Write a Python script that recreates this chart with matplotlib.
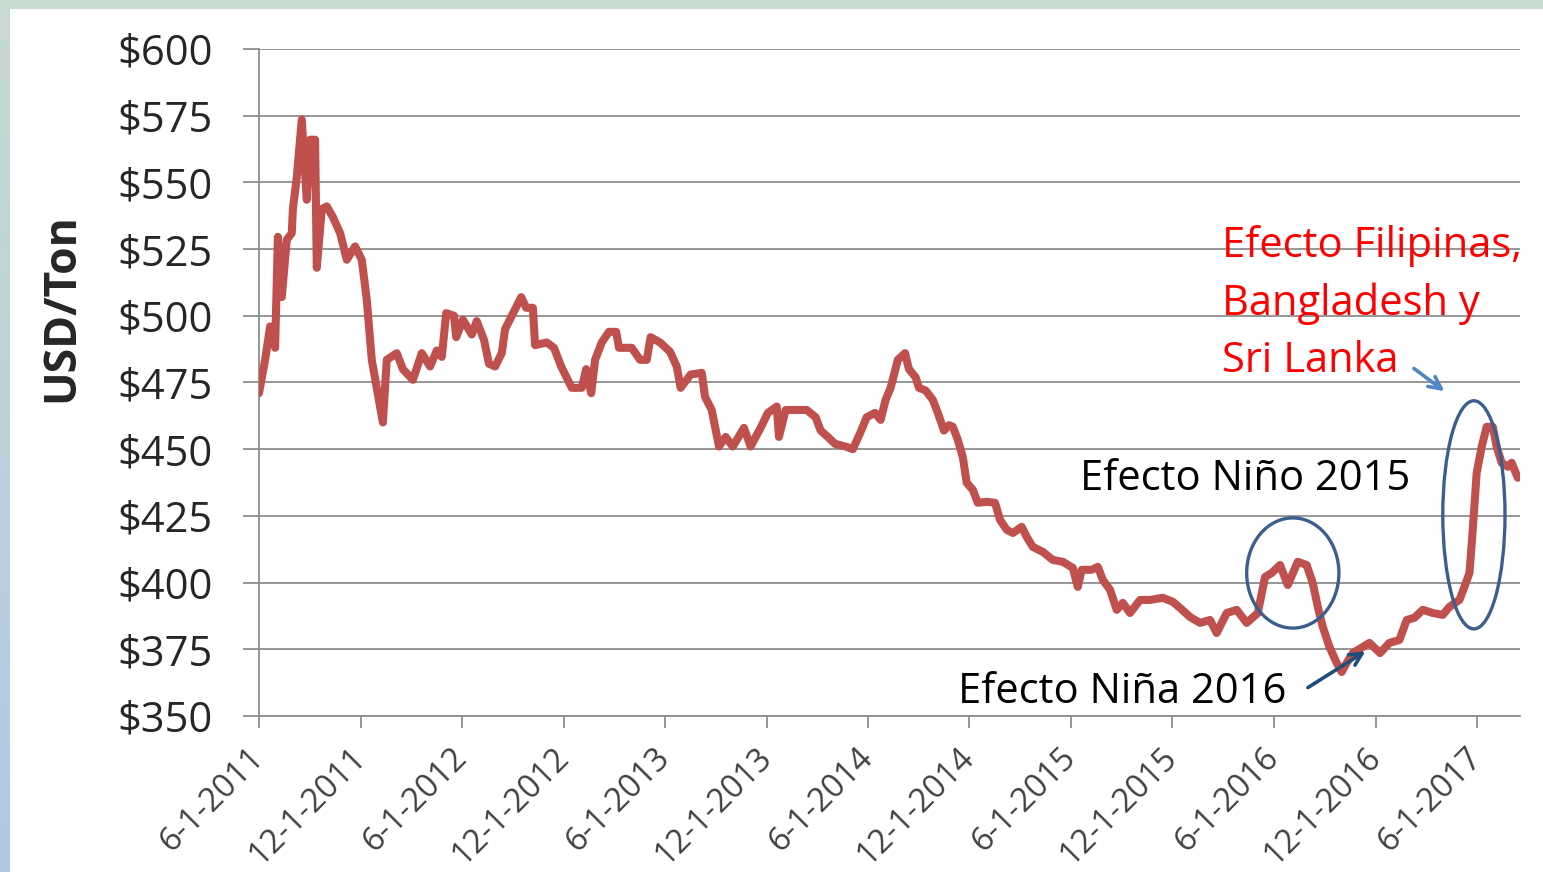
import numpy as np
import matplotlib
matplotlib.use("Agg")
import matplotlib.pyplot as plt
import matplotlib.dates as mdates
from matplotlib.patches import Ellipse, Rectangle

plt.rcParams['font.family'] = ['Open Sans', 'DejaVu Sans']

# rice price, USD/Ton (days counted from 6-1-2011)
start = np.datetime64('2011-06-01')
days = [0, 11, 20, 29, 34, 41, 50, 59, 61, 68, 77, 86, 92, 101, 104, 113, 122, 133,
        146, 158, 173, 185, 194, 203, 212, 223, 230, 248, 259, 277, 293, 308, 320,
        329, 337, 351, 355, 367, 383, 392, 405, 414, 425, 437, 443, 455, 472, 481,
        493, 497, 518, 531, 544, 563, 581, 589, 598, 605, 617, 630, 643, 648, 671,
        686, 698, 705, 722, 740, 752, 759, 777, 797, 803, 815, 828, 840, 853, 873,
        885, 903, 916, 932, 936, 948, 961, 986, 1002, 1011, 1024, 1037, 1056, 1069,
        1082, 1094, 1109, 1119, 1128, 1137, 1150, 1163, 1170, 1182, 1188, 1200, 1213,
        1222, 1233, 1242, 1249, 1258, 1267, 1274, 1285, 1294, 1310, 1325, 1334, 1346,
        1357, 1373, 1382, 1393, 1411, 1429, 1447, 1465, 1474, 1481, 1499, 1510, 1519,
        1532, 1544, 1555, 1568, 1586, 1604, 1627, 1645, 1658, 1676, 1694, 1712, 1724,
        1742, 1760, 1778, 1798, 1811, 1823, 1838, 1852, 1870, 1886, 1897, 1906, 1915,
        1927, 1940, 1949, 1958, 1969, 1987, 1999, 2018, 2035, 2053, 2066, 2080, 2095,
        2113, 2131, 2143, 2161, 2170, 2179, 2184, 2192, 2201, 2210, 2221, 2228, 2237,
        2248, 2255, 2266]
price = [471, 483.5, 496, 488, 529.6, 507, 528.5, 531, 540, 552, 573.5, 543.5, 566, 566,
         518, 540, 541, 537, 531, 521, 526, 521, 506, 483.5, 473, 460, 483.5, 486, 480,
         476, 486, 481, 487, 484.6, 501, 500, 492, 498.5, 493, 498, 491, 482, 481, 486,
         495, 500, 507, 503, 503, 489, 490, 488, 481, 473, 473, 480, 471, 483.5, 490,
         494, 494, 488, 488, 483.5, 483.5, 492, 490, 486.5, 481, 473, 478, 478.6, 469.6,
         464.7, 451, 454.6, 451, 458, 451, 458, 463.6, 466, 454.6, 464.7, 464.7, 464.7,
         462, 457, 454.6, 452, 451, 450, 456, 462, 463.6, 461, 468.5, 473, 483.5, 486,
         480, 477, 473, 472, 468.5, 463.6, 457, 459, 458.4, 453.5, 447, 437.4, 434.8,
         429.9, 430.3, 429.9, 423.5, 419.8, 418.6, 420.9, 417.1, 413.4, 411.5, 408.5,
         407.8, 405.5, 398.4, 404.8, 404.8, 405.9, 401, 397.3, 389.8, 392.4, 388.6, 393.5,
         393.5, 394.3, 392.8, 390.5, 387.1, 384.9, 386, 381.1, 388.6, 389.8, 384.9, 388.6,
         402.1, 403.6, 406.6, 399.1, 407.8, 406.6, 399.8, 390.9, 383.4, 375.9, 369.9,
         366.5, 369.9, 373.6, 375.9, 377.4, 373.6, 377.4, 378.5, 386, 386.8, 389.8, 388.6,
         387.9, 390.9, 393.5, 398.4, 403.6, 417.1, 441.1, 450.9, 458.4, 458.4, 450.9,
         444.9, 443.4, 444.9, 439.3]

tick_dates = ['2011-06-01', '2011-12-01', '2012-06-01', '2012-12-01', '2013-06-01',
              '2013-12-01', '2014-06-01', '2014-12-01', '2015-06-01', '2015-12-01',
              '2016-06-01', '2016-12-01', '2017-06-01']
tick_labels = ['6-1-2011', '12-1-2011', '6-1-2012', '12-1-2012', '6-1-2013', '12-1-2013',
               '6-1-2014', '12-1-2014', '6-1-2015', '12-1-2015', '6-1-2016', '12-1-2016',
               '6-1-2017']
y_ticks = [350, 375, 400, 425, 450, 475, 500, 525, 550, 575, 600]

W, H = 1543, 872
grid_c = '#8E8E8E'


def fx(px):
    return px / W


def fy(py):
    return 1 - py / H


def dnum(d):
    return mdates.date2num(start + np.timedelta64(int(d), 'D'))


fig = plt.figure(figsize=(W / 100, H / 100), dpi=100)

# slide background: gradient border with white panel
bg = fig.add_axes([0, 0, 1, 1])
top_c = np.array([200, 218, 208]) / 255
bot_c = np.array([178, 199, 229]) / 255
t = np.linspace(0, 1, 200)[:, None, None]
grad = top_c * (1 - t) + bot_c * t
bg.imshow(grad, aspect='auto', extent=[0, 1, 0, 1])
bg.add_patch(Rectangle((fx(10), 0), 1, fy(9), transform=bg.transAxes,
                       facecolor='white', edgecolor='none'))
bg.axis('off')

ax = fig.add_axes([fx(259), fy(716), fx(1520 - 259), (716 - 49) / H])
ax.patch.set_alpha(0)
dates = start + np.array(days).astype('timedelta64[D]')
ax.plot(dates, price, color='#C0504D', lw=5.8, solid_joinstyle='round',
        solid_capstyle='round', zorder=3)

ax.set_ylim(350, 600)
ax.set_xlim(start, start + np.timedelta64(2270, 'D'))
ax.set_yticks(y_ticks)
ax.set_yticklabels(['$' + str(v) for v in y_ticks])
ax.set_xticks([np.datetime64(d) for d in tick_dates])
ax.set_xticklabels(tick_labels, rotation=45, ha='right', va='center',
                   rotation_mode='anchor')
ax.grid(axis='y', color=grid_c, lw=1.3)
ax.set_axisbelow(True)
for s in ['top', 'right']:
    ax.spines[s].set_visible(False)
for s in ['left', 'bottom']:
    ax.spines[s].set_color(grid_c)
    ax.spines[s].set_linewidth(1.3)
ax.tick_params(axis='y', length=11.5, width=1.3, color=grid_c, pad=22,
               labelsize=30, labelcolor='#262626')
ax.tick_params(axis='x', length=8.6, width=1.3, color=grid_c, pad=18,
               labelsize=23.5, labelcolor='#404040')

fig.text(fx(62), fy(308), 'USD/Ton', rotation=90, fontsize=32, fontweight='bold',
         color='#262626', ha='center', va='center')

# annotations
red_lines = ['Efecto Filipinas,', 'Bangladesh y', 'Sri Lanka']
for line, py in zip(red_lines, [246, 304, 361]):
    fig.text(fx(1222), fy(py), line, fontsize=30, color='#FF0000', ha='left', va='center')
fig.text(fx(1080), fy(479), 'Efecto Niño 2015', fontsize=30, color='black',
         ha='left', va='center')
fig.text(fx(958), fy(692), 'Efecto Niña 2016', fontsize=30, color='black',
         ha='left', va='center')

ax.add_patch(Ellipse((dnum(1861), 403.6), 166, 41.3, fill=False,
                     edgecolor='#3A5F8E', lw=2.4, zorder=4, clip_on=False))
ax.add_patch(Ellipse((dnum(2187), 425.4), 112, 85.5, fill=False,
                     edgecolor='#3A5F8E', lw=2.4, zorder=4, clip_on=False))

ax.annotate('', xy=(dnum(2138), 471.1), xytext=(dnum(2075), 480.9),
            arrowprops=dict(arrowstyle='->', color='#4F88C6', lw=2.6,
                            mutation_scale=22), annotation_clip=False)
ax.annotate('', xy=(dnum(1996), 374.8), xytext=(dnum(1884), 360.1),
            arrowprops=dict(arrowstyle='->', color='#1F4E79', lw=2.6,
                            mutation_scale=22), annotation_clip=False)

fig.savefig('out.png', dpi=100)
